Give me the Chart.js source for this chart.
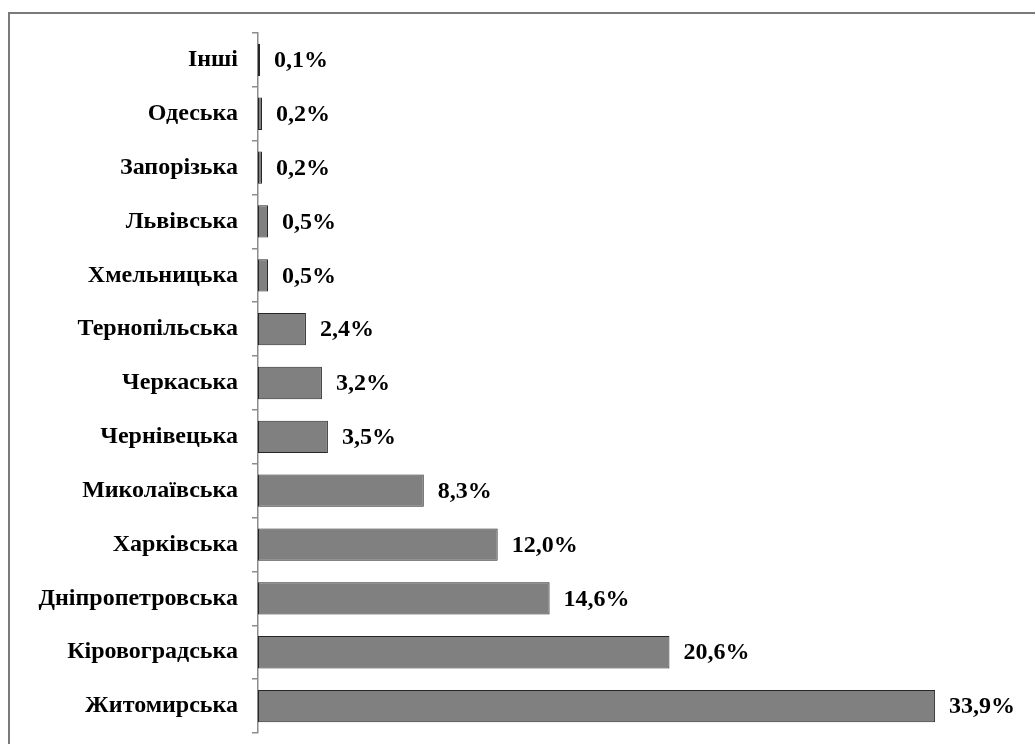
<!DOCTYPE html>
<html>
<head>
<meta charset="utf-8">
<script src="https://cdn.jsdelivr.net/npm/chart.js@4/dist/chart.umd.min.js"></script>
<style>
  html, body { margin: 0; padding: 0; background: #fff; }
  #wrap { width: 1035px; height: 744px; position: relative; }
</style>
</head>
<body>
<div id="wrap"><canvas id="regionChart"></canvas></div>
<script>
// shares by region, top to bottom as in the picture
const regions = ['Інші', 'Одеська', 'Запорізька', 'Львівська', 'Хмельницька', 'Тернопільська',
    'Черкаська', 'Чернівецька', 'Миколаївська', 'Харківська', 'Дніпропетровська',
    'Кіровоградська', 'Житомирська'];
const shares = [0.1, 0.2, 0.2, 0.5, 0.5, 2.4, 3.2, 3.5, 8.3, 12.0, 14.6, 20.6, 33.9];

const serif = '"Liberation Serif", "Times New Roman", serif';
const labelFont = 'bold 24px ' + serif;

let formatShare = function (v) {
    return v.toFixed(1).replace('.', ',') + '%';
};

// outer frame of the picture (runs off the right and bottom edge)
const framePlugin = {
    id: 'frame',
    beforeDraw: function (chart) {
        let ctx = chart.ctx;
        ctx.save();
        ctx.strokeStyle = '#7a7a7a';
        ctx.lineWidth = 2;
        ctx.strokeRect(9, 13, 1040, 760);
        ctx.restore();
    }
};

// value labels to the right of each bar
const valuePlugin = {
    id: 'values',
    afterDatasetsDraw: function (chart) {
        let ctx = chart.ctx;
        let meta = chart.getDatasetMeta(0);
        ctx.save();
        ctx.font = labelFont;
        ctx.fillStyle = '#000';
        ctx.textAlign = 'left';
        ctx.textBaseline = 'middle';
        meta.data.forEach(function (bar, i) {
            ctx.fillText(formatShare(shares[i]), bar.x + 14, bar.y + 1);
        });
        ctx.restore();
    }
};

let ctx = document.getElementById('regionChart').getContext('2d');
let regionChart = new Chart(ctx, {
    type: 'bar',
    data: {
        labels: regions,
        datasets: [{
            data: shares,
            backgroundColor: '#808080',
            borderColor: '#262626',
            borderWidth: 1,
            borderSkipped: false,
            categoryPercentage: 1,
            barPercentage: 0.6
        }]
    },
    options: {
        indexAxis: 'y',
        responsive: true,
        maintainAspectRatio: false,
        animation: false,
        devicePixelRatio: 1,
        layout: {
            padding: { left: 0, right: 18, top: 33, bottom: 11 }
        },
        plugins: {
            legend: { display: false },
            tooltip: { enabled: false }
        },
        scales: {
            x: {
                display: false,
                min: 0,
                max: 38
            },
            y: {
                offset: true,
                afterFit: function (scale) {
                    scale.width = 258;
                    // labels sit inside their bands, no extra room needed
                    scale.paddingTop = 0;
                    scale.paddingBottom = 0;
                },
                border: { display: true, color: '#8c8c8c', width: 1.5 },
                grid: {
                    display: true,
                    offset: true,
                    drawOnChartArea: false,
                    drawTicks: true,
                    tickLength: 6,
                    color: '#8c8c8c',
                    lineWidth: 1.5
                },
                ticks: {
                    color: '#000',
                    padding: 14,
                    font: { family: serif, size: 24, weight: 'bold' }
                }
            }
        }
    },
    plugins: [framePlugin, valuePlugin]
});
</script>
</body>
</html>
